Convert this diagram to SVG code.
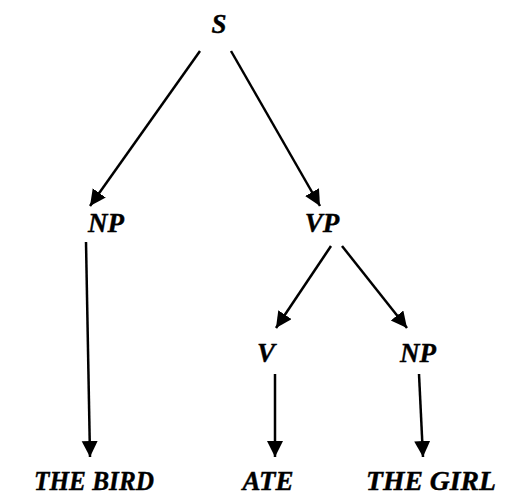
<svg xmlns="http://www.w3.org/2000/svg" width="505" height="497" viewBox="0 0 505 497">
<style>
text{font-family:"Liberation Serif","Times New Roman",serif;font-weight:bold;font-style:italic;font-size:27px;fill:#000;stroke:#000;stroke-width:0.4;text-anchor:middle}
.e{stroke:#000;stroke-width:2.5;fill:none;marker-end:url(#ah)}
</style>
<defs>
<marker id="ah" markerUnits="userSpaceOnUse" markerWidth="17" markerHeight="17" refX="16" refY="8" orient="auto" viewBox="0 0 17 17">
<path d="M0,0 L16,8 L0,16 Z" fill="#000"/>
</marker>
</defs>
<rect width="505" height="497" fill="#fff"/>
<g id="connectors">
<line class="e" x1="200" y1="51" x2="90" y2="206"/>
<line class="e" x1="231" y1="51" x2="320" y2="206"/>
<line class="e" x1="86" y1="242" x2="90" y2="457"/>
<line class="e" x1="331" y1="246" x2="276" y2="328"/>
<line class="e" x1="342" y1="246" x2="407" y2="328"/>
<line class="e" x1="275" y1="374" x2="275" y2="457"/>
<line class="e" x1="419" y1="374" x2="423" y2="457"/>
</g>
<g id="S"><text x="219" y="33">S</text></g>
<g id="NP1"><text x="106" y="232">NP</text></g>
<g id="VP"><text x="322" y="232">VP</text></g>
<g id="V"><text x="266" y="362">V</text></g>
<g id="NP2"><text x="418" y="362">NP</text></g>
<g id="THE_BIRD"><text x="94" y="490" textLength="120" lengthAdjust="spacingAndGlyphs">THE BIRD</text></g>
<g id="ATE"><text x="268" y="490">ATE</text></g>
<g id="THE_GIRL"><text x="431" y="490" textLength="130" lengthAdjust="spacingAndGlyphs">THE GIRL</text></g>
</svg>
